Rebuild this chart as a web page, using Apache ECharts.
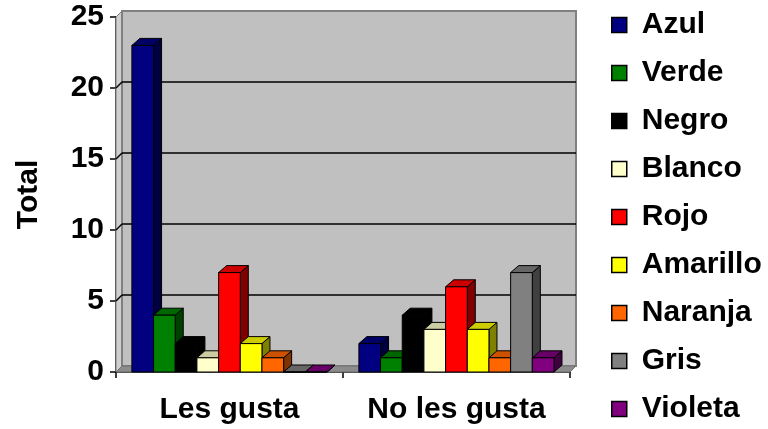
<!DOCTYPE html>
<html>
<head>
<meta charset="utf-8">
<script src="https://cdn.jsdelivr.net/npm/echarts@6/dist/echarts.min.js"></script>
<style>
  html, body { margin: 0; padding: 0; background: #ffffff; }
  #chart { width: 768px; height: 429px; }
</style>
</head>
<body>
<div id="chart"></div>
<script>
// Categories and per-colour counts
const categories = ['Les gusta', 'No les gusta'];
const seriesNames = ['Azul', 'Verde', 'Negro', 'Blanco', 'Rojo', 'Amarillo', 'Naranja', 'Gris', 'Violeta'];
const azul     = [23, 2];
const verde    = [4, 1];
const negro    = [2, 4];
const blanco   = [1, 3];
const rojo     = [7, 6];
const amarillo = [2, 3];
const naranja  = [1, 1];
const gris     = [0, 7];
const violeta  = [0, 1];
const yTicks   = [0, 5, 10, 15, 20, 25];

const seriesValues = [azul, verde, negro, blanco, rojo, amarillo, naranja, gris, violeta];
const palette = ['#000080', '#008000', '#000000', '#FFFFCC', '#FF0000', '#FFFF00', '#FF6600', '#808080', '#800080'];

const FONT = '"Liberation Sans", Arial, sans-serif';
const FONT_SIZE = 30;

function shade(hex, f) {
  const n = parseInt(hex.slice(1), 16);
  const r = Math.round(((n >> 16) & 255) * f);
  const g = Math.round(((n >> 8) & 255) * f);
  const b = Math.round((n & 255) * f);
  return 'rgb(' + r + ',' + g + ',' + b + ')';
}

// Back wall, side wall, floor and gridlines with a small depth offset
const WALL_DX = 6, WALL_DY = 6;
function renderWalls(params, api) {
  const cs = params.coordSys;
  const gx = cs.x, gy = cs.y, gw = cs.width, gh = cs.height;
  const dx = WALL_DX, dy = WALL_DY;
  const children = [];
  children.push({
    type: 'polygon',
    shape: { points: [[gx, gy], [gx + dx, gy - dy], [gx + dx, gy + gh - dy], [gx, gy + gh]] },
    style: { fill: '#CFCFCF', stroke: '#808080', lineWidth: 1 }
  });
  children.push({
    type: 'rect',
    shape: { x: gx + dx, y: gy - dy, width: gw, height: gh },
    style: { fill: '#C0C0C0', stroke: '#808080', lineWidth: 2 }
  });
  children.push({
    type: 'polygon',
    shape: { points: [[gx, gy + gh], [gx + dx, gy + gh - dy], [gx + gw + dx, gy + gh - dy], [gx + gw, gy + gh]] },
    style: { fill: '#8C8C8C', stroke: '#707070', lineWidth: 1 }
  });
  yTicks.forEach(function (t) {
    if (t === yTicks[0] || t === yTicks[yTicks.length - 1]) return;
    const y = api.coord([0, t])[1];
    children.push({
      type: 'line',
      shape: { x1: gx + dx, y1: y - dy, x2: gx + gw + dx, y2: y - dy },
      style: { stroke: '#000000', lineWidth: 1.5 }
    });
    children.push({
      type: 'line',
      shape: { x1: gx, y1: y, x2: gx + dx, y2: y - dy },
      style: { stroke: '#000000', lineWidth: 1.5 }
    });
  });
  return { type: 'group', children: children, silent: true };
}

// Box-shaped column: front face, top face and right side face
const BAR_DX = 8, BAR_DY = 7;
function barRenderer(s) {
  const col = palette[s];
  return function (params, api) {
    const c = api.value(0), v = api.value(1);
    const base = api.coord([c, 0]);
    const top = api.coord([c, v]);
    const band = api.size([1, 0])[0];
    const barW = band * 0.0955;
    const x0 = base[0] - band / 2 + band * 0.07 + s * barW;
    const x1 = x0 + barW;
    const yb = base[1], yt = top[1];
    const dx = BAR_DX, dy = BAR_DY;
    const stroke = { stroke: '#000000', lineWidth: 1 };
    return {
      type: 'group',
      children: [
        {
          type: 'polygon',
          shape: { points: [[x1, yt], [x1 + dx, yt - dy], [x1 + dx, yb - dy], [x1, yb]] },
          style: Object.assign({ fill: shade(col, 0.5) }, stroke)
        },
        {
          type: 'polygon',
          shape: { points: [[x0, yt], [x0 + dx, yt - dy], [x1 + dx, yt - dy], [x1, yt]] },
          style: Object.assign({ fill: shade(col, 0.8) }, stroke)
        },
        {
          type: 'rect',
          shape: { x: x0, y: yt, width: barW, height: yb - yt },
          style: Object.assign({ fill: col }, stroke)
        }
      ]
    };
  };
}

const chart = echarts.init(document.getElementById('chart'), null, { renderer: 'canvas' });

const series = [{
  name: '_walls',
  type: 'custom',
  renderItem: renderWalls,
  data: [[0, 0]],
  z: 1,
  silent: true,
  tooltip: { show: false }
}];
seriesNames.forEach(function (name, s) {
  series.push({
    name: name,
    type: 'custom',
    renderItem: barRenderer(s),
    itemStyle: { color: palette[s], borderColor: '#000', borderWidth: 1 },
    encode: { x: 0, y: 1 },
    data: categories.map(function (cat, i) { return [i, seriesValues[s][i]]; }),
    z: 2
  });
});

chart.setOption({
  animation: false,
  backgroundColor: '#ffffff',
  grid: { left: 116, top: 17, width: 454, height: 355, containLabel: false },
  legend: {
    data: seriesNames.map(function (n, s) {
      return { name: n, itemStyle: { color: palette[s], borderColor: '#000', borderWidth: 1.5 } };
    }),
    orient: 'vertical',
    left: 611,
    top: 10,
    padding: 0,
    icon: 'rect',
    itemWidth: 15,
    itemHeight: 15,
    itemGap: 18,
    textStyle: { fontFamily: FONT, fontWeight: 'bold', fontSize: FONT_SIZE, color: '#000', lineHeight: 30, padding: [0, 0, 0, 10] }
  },
  xAxis: {
    type: 'category',
    data: categories,
    boundaryGap: true,
    axisLine: { show: true, lineStyle: { color: '#000', width: 1.5 } },
    axisTick: { show: true, length: 6, interval: 0, alignWithLabel: false, lineStyle: { color: '#000', width: 1.5 } },
    axisLabel: { interval: 0, fontFamily: FONT, fontWeight: 'bold', fontSize: FONT_SIZE, color: '#000', margin: 23 },
    splitLine: { show: false }
  },
  yAxis: {
    type: 'value',
    min: 0,
    max: 25,
    interval: 5,
    name: 'Total',
    nameLocation: 'middle',
    nameGap: 72,
    nameRotate: 90,
    nameTextStyle: { fontFamily: FONT, fontWeight: 'bold', fontSize: FONT_SIZE, color: '#000' },
    axisLine: { show: true, lineStyle: { color: '#000', width: 1.5 } },
    axisTick: { show: true, length: 6, lineStyle: { color: '#000', width: 1.5 } },
    axisLabel: { fontFamily: FONT, fontWeight: 'bold', fontSize: FONT_SIZE, color: '#000', margin: 12 },
    splitLine: { show: false }
  },
  series: series
});
</script>
</body>
</html>
